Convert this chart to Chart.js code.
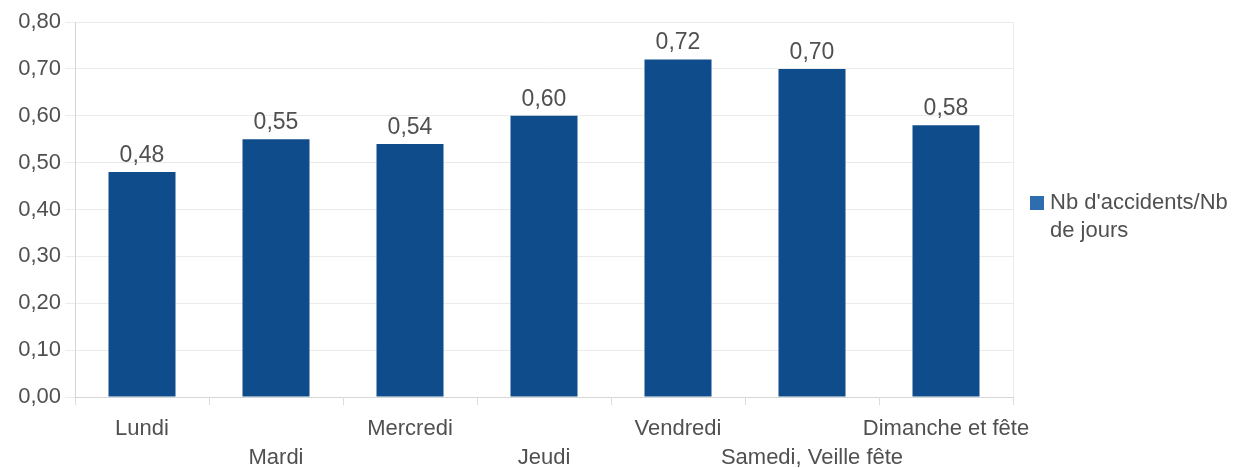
<!DOCTYPE html>
<html lang="fr">
<head>
<meta charset="UTF-8">
<title>Accidents par jour</title>
<script src="https://cdn.jsdelivr.net/npm/chart.js"></script>
<style>
  html, body { margin: 0; padding: 0; background: #fff; }
  #wrap { width: 1259px; height: 468px; }
</style>
</head>
<body>
<div id="wrap"><canvas id="barChart"></canvas></div>
<script>
const days = ['Lundi', 'Mardi', 'Mercredi', 'Jeudi', 'Vendredi', 'Samedi, Veille fête', 'Dimanche et fête'];
const ratio = [0.48, 0.55, 0.54, 0.60, 0.72, 0.70, 0.58];
const seriesName = "Nb d'accidents/Nb de jours";
const legendLines = ["Nb d'accidents/Nb", 'de jours'];

const barColor = '#0f4c8c';
const textColor = '#505050';
const fontFamily = '"Liberation Sans", Arial, sans-serif';

const fmt = v => Number(v).toFixed(2).replace('.', ',');

// value labels above bars
const valueLabels = {
  id: 'valueLabels',
  afterDatasetsDraw(chart) {
    const ctx = chart.ctx;
    const meta = chart.getDatasetMeta(0);
    ctx.save();
    ctx.font = '23px ' + fontFamily;
    ctx.fillStyle = textColor;
    ctx.textAlign = 'center';
    ctx.textBaseline = 'bottom';
    meta.data.forEach((bar, i) => {
      ctx.fillText(fmt(ratio[i]), bar.x, bar.y - 5);
    });
    ctx.restore();
  }
};

// legend drawn on the right, wrapped on two lines
const sideLegend = {
  id: 'sideLegend',
  afterDraw(chart) {
    const ctx = chart.ctx;
    const x = chart.chartArea.right + 17;
    const y = 203;
    ctx.save();
    ctx.fillStyle = '#2f6eae';
    ctx.fillRect(x, y - 7, 14, 14);
    ctx.font = '22px ' + fontFamily;
    ctx.fillStyle = textColor;
    ctx.textBaseline = 'middle';
    legendLines.forEach((line, i) => {
      ctx.fillText(line, x + 20, y + i * 28);
    });
    // right border of the plot
    ctx.strokeStyle = '#ececec';
    ctx.lineWidth = 1;
    ctx.beginPath();
    ctx.moveTo(chart.chartArea.right + 0.5, chart.chartArea.top);
    ctx.lineTo(chart.chartArea.right + 0.5, chart.chartArea.bottom);
    ctx.stroke();
    ctx.restore();
  }
};

new Chart(document.getElementById('barChart'), {
  type: 'bar',
  data: {
    labels: days,
    datasets: [{
      label: seriesName,
      data: ratio,
      backgroundColor: barColor,
      borderWidth: 0,
      categoryPercentage: 1,
      barPercentage: 0.5
    }]
  },
  options: {
    responsive: true,
    maintainAspectRatio: false,
    animation: false,
    layout: { padding: { top: 22, right: 246, bottom: 0, left: 0 } },
    plugins: {
      legend: { display: false },
      tooltip: { enabled: false }
    },
    scales: {
      x: {
        afterFit(scale) { scale.height = 71; },
        grid: { display: true, drawOnChartArea: false, tickLength: 8, color: '#dcdcdc', offset: true },
        border: { color: '#d6d6d6' },
        ticks: {
          color: textColor,
          font: { size: 22, family: fontFamily, lineHeight: 1.3 },
          padding: 10,
          maxRotation: 0,
          autoSkip: false,
          callback: (v, i) => i % 2 === 0 ? [days[i], ''] : ['', days[i]]
        }
      },
      y: {
        min: 0,
        max: 0.8,
        afterFit(scale) { scale.width = 75; },
        grid: { color: '#ebebeb', tickLength: 10 },
        border: { color: '#d6d6d6' },
        ticks: {
          stepSize: 0.1,
          color: textColor,
          font: { size: 22, family: fontFamily },
          padding: 4,
          callback: v => fmt(v)
        }
      }
    }
  },
  plugins: [valueLabels, sideLegend]
});
</script>
</body>
</html>
